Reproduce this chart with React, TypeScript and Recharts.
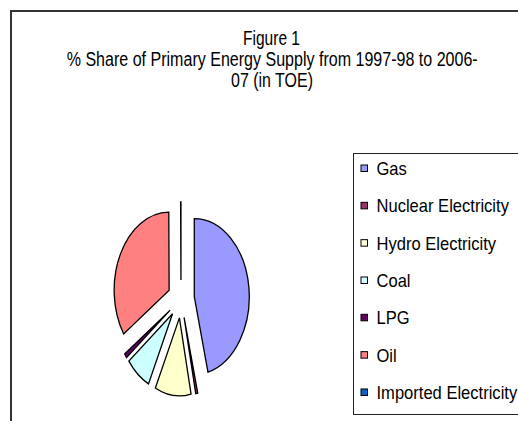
import { PieChart, Pie, Cell, Legend } from 'recharts';

const categories = ['Gas', 'Nuclear Electricity', 'Hydro Electricity', 'Coal', 'LPG', 'Oil', 'Imported Electricity'];
const shares = [46.0, 0.6, 10.6, 7.4, 0.9, 34.4, 0.1];
const colors = ['#9999FF', '#993366', '#FFFFCC', '#CCFFFF', '#660066', '#FF8080', '#0066CC'];
const titleLines = ['Figure 1', '% Share of Primary Energy Supply from 1997-98 to 2006-', '07 (in TOE)'];

const data = categories.map((name, i) => ({ name, value: shares[i] }));

const FONT = '"Liberation Sans", Arial, sans-serif';
const RAD = Math.PI / 180;
const SQUEEZE = 0.705; // pie is stretched vertically in the original
const EXPLODE = 19;

const EllipseSector = (props: any) => {
  const { cx, cy, outerRadius, startAngle, endAngle, fill } = props;
  const mid = (startAngle + endAngle) / 2;
  const ox = cx + EXPLODE * SQUEEZE * Math.cos(-mid * RAD);
  const oy = cy + EXPLODE * Math.sin(-mid * RAD);
  const rx = outerRadius * SQUEEZE;
  const ry = outerRadius;
  const pt = (a: number) => [ox + rx * Math.cos(-a * RAD), oy + ry * Math.sin(-a * RAD)];
  const [x1, y1] = pt(startAngle);
  const [x2, y2] = pt(endAngle);
  const large = Math.abs(startAngle - endAngle) > 180 ? 1 : 0;
  const sweep = startAngle > endAngle ? 1 : 0;
  const d = `M${ox},${oy} L${x1},${y1} A${rx},${ry} 0 ${large} ${sweep} ${x2},${y2} Z`;
  return <path d={d} fill={fill} stroke="#000" strokeWidth={1.3} strokeLinejoin="miter" />;
};

const LegendBox = (props: any) => {
  // keep the sheet's series order, not alphabetical
  const items = [...(props.payload || [])].sort(
    (a: any, b: any) => categories.indexOf(a.value) - categories.indexOf(b.value)
  );
  return (
    <svg width={180} height={263} style={{ display: 'block' }}>
      <rect x={0.5} y={0.5} width={200} height={261} fill="#fff" stroke="#222" strokeWidth={1} />
      {items.map((entry: any, i: number) => {
        const base = 22 + i * 37.33;
        return (
          <g key={entry.value}>
            <rect x={8} y={base - 10} width={6.5} height={6.5} fill={entry.color} stroke="#000" strokeWidth={1} />
            <text
              transform={`translate(23.5,${base}) scale(0.92,1)`}
              fontFamily={FONT}
              fontSize={18}
              fill="#000"
            >
              {entry.value}
            </text>
          </g>
        );
      })}
    </svg>
  );
};

export default function App() {
  return (
    <div style={{ position: 'absolute', left: 0, top: 0, width: 518, height: 421, overflow: 'hidden', background: '#fff' }}>
      <PieChart width={518} height={421} margin={{ top: 0, right: 0, bottom: 0, left: 0 }}>
        <Pie
          data={data}
          dataKey="value"
          nameKey="name"
          cx={181}
          cy={299}
          outerRadius={78}
          startAngle={90}
          endAngle={-270}
          isAnimationActive={false}
          inactiveShape={EllipseSector}
          activeShape={EllipseSector}
          shape={EllipseSector}
          label={false}
          labelLine={false}
        >
          {data.map((d, i) => (
            <Cell key={d.name} fill={colors[i]} />
          ))}
        </Pie>
        <Legend
          layout="vertical"
          align="right"
          verticalAlign="top"
          content={<LegendBox />}
          wrapperStyle={{ left: 353, top: 153, width: 180, height: 263 }}
        />
      </PieChart>
      <svg width={518} height={421} style={{ position: 'absolute', left: 0, top: 0, pointerEvents: 'none' }}>
        <rect x={11} y={11} width={530} height={430} fill="none" stroke="#333" strokeWidth={2} />
        <text x={243} y={45} fontFamily={FONT} fontSize={20} textLength={57} lengthAdjust="spacingAndGlyphs">
          {titleLines[0]}
        </text>
        <text x={66.7} y={66} fontFamily={FONT} fontSize={20} textLength={411} lengthAdjust="spacingAndGlyphs">
          {titleLines[1]}
        </text>
        <text x={231} y={87} fontFamily={FONT} fontSize={20} textLength={82} lengthAdjust="spacingAndGlyphs">
          {titleLines[2]}
        </text>
      </svg>
    </div>
  );
}
